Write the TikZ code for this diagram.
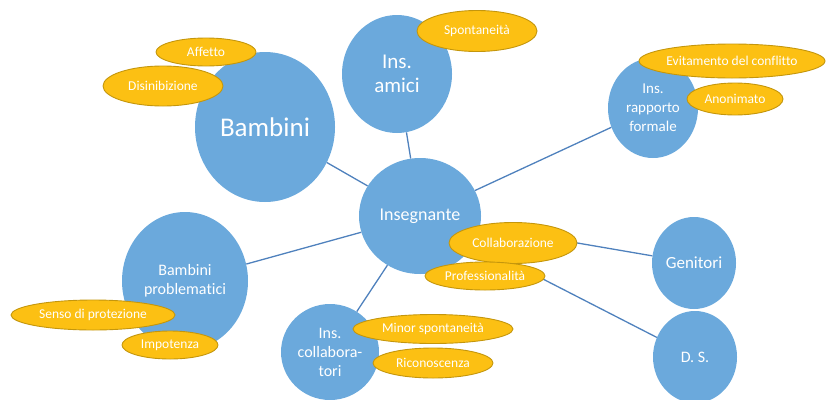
\documentclass[tikz,border=0pt]{standalone}
\usepackage{fontspec}
\setmainfont{Carlito}[Ligatures=NoCommon]
\usetikzlibrary{shapes.geometric}
\definecolor{bubblefill}{HTML}{6BA9DC}
\definecolor{tagfill}{HTML}{FCC013}
\definecolor{tagdraw}{HTML}{C4960C}
\definecolor{linkcol}{HTML}{4F81BD}
\tikzset{
  bubble/.style={ellipse, fill=bubblefill, text=white, inner sep=0pt, align=center},
  tag/.style={ellipse, fill=tagfill, draw=tagdraw, line width=0.9pt, text=white, inner sep=0pt,
    font=\fontsize{13.5}{16}\selectfont},
  link/.style={draw=linkcol, line width=1.3pt}
}
\begin{document}
\begin{tikzpicture}[x=1pt, y=-1pt]
\useasboundingbox (0,0) rectangle (826,399);
    \node (bam) at (265,127) [bubble, minimum width=140, minimum height=150, font=\fontsize{27}{30}\selectfont] {Bambini};
    \node (ami) at (397,74) [bubble, minimum width=110, minimum height=118, font=\fontsize{21}{24}\selectfont] {Ins.\\amici};
    \node (for) at (653,108) [bubble, minimum width=90, minimum height=100, font=\fontsize{15}{19}\selectfont] {Ins.\\rapporto\\formale};
    \node (pro) at (185,281) [bubble, minimum width=126, minimum height=138, font=\fontsize{16}{19}\selectfont] {Bambini\\problematici};
    \node (ins) at (420,216) [bubble, minimum width=122, minimum height=116, font=\fontsize{18}{21}\selectfont] {Insegnante};
    \node (col) at (330,352) [bubble, minimum width=98, minimum height=96, font=\fontsize{16}{19}\selectfont] {Ins.\\collabora-\\tori};
    \node (gen) at (694,263) [bubble, minimum width=84, minimum height=92, font=\fontsize{17}{20}\selectfont] {Genitori};
    \node (ds) at (695,357) [bubble, minimum width=84, minimum height=92, font=\fontsize{16}{19}\selectfont] {D. S.};
\draw[link] (ins) -- (bam);
\draw[link] (ins) -- (ami);
\draw[link] (ins) -- (for);
\draw[link] (ins) -- (pro);
\draw[link] (ins) -- (col);
\draw[link] (ins) -- (gen);
\draw[link] (ins) -- (ds);
    \node (aff) at (206,52) [tag, minimum width=100, minimum height=28] {Affetto\hspace{14pt}};
    \node (dis) at (163,86) [tag, minimum width=120, minimum height=40] {Disinibizione};
    \node (spo) at (477,31) [tag, minimum width=120, minimum height=41] {Spontaneità};
    \node (evi) at (732,61) [tag, minimum width=186, minimum height=34] {Evitamento del conflitto};
    \node (ano) at (735,99) [tag, minimum width=96, minimum height=32] {Anonimato};
    \node (sen) at (93,315) [tag, minimum width=164, minimum height=30] {Senso di protezione};
    \node (imp) at (170,345) [tag, minimum width=96, minimum height=28] {Impotenza};
    \node (cla) at (513,243) [tag, minimum width=128, minimum height=41] {Collaborazione};
    \node (prf) at (485,276) [tag, minimum width=120, minimum height=28] {Professionalità};
    \node (min) at (433,329) [tag, minimum width=160, minimum height=29] {Minor spontaneità};
    \node (ric) at (433,363) [tag, minimum width=120, minimum height=30] {Riconoscenza};
\end{tikzpicture}
\end{document}
